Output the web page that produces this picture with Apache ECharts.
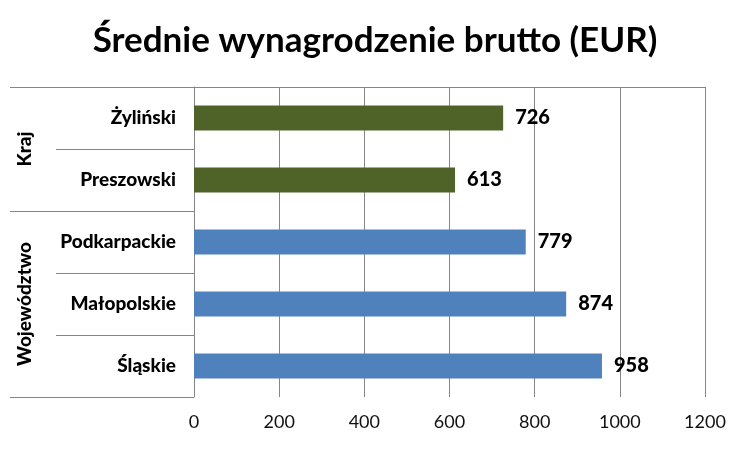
<!DOCTYPE html>
<html>
<head>
<meta charset="utf-8">
<script src="https://cdn.jsdelivr.net/npm/echarts@6/dist/echarts.min.js"></script>
<style>
    html, body { margin: 0; padding: 0; background: #fff; }
    #chart { width: 750px; height: 450px; }
</style>
</head>
<body>
<div id="chart"></div>
<script>
    var categories = ['Żyliński', 'Preszowski', 'Podkarpackie', 'Małopolskie', 'Śląskie'];
    var values = [726, 613, 779, 874, 958];
    var groupOf = ['Kraj', 'Kraj', 'Województwo', 'Województwo', 'Województwo'];
    var groups = ['Kraj', 'Województwo'];
    var xTicks = [0, 200, 400, 600, 800, 1000, 1200];

    var colors = { 'Kraj': '#4F6228', 'Województwo': '#4F81BD' };
    var gridColor = '#868686';
    var font = 'Lato';

    // group boundaries and label positions in category units
    var bounds = [0];
    var mids = [];
    groups.forEach(function (g) {
        var start = groupOf.indexOf(g);
        var end = groupOf.lastIndexOf(g) + 1;
        bounds.push(end);
        mids.push((start + end) / 2);
    });

    var chart = echarts.init(document.getElementById('chart'));
    chart.setOption({
        animation: false,
        title: {
            text: 'Średnie wynagrodzenie brutto (EUR)',
            left: 'center',
            top: 18,
            textStyle: { fontFamily: font, fontSize: 35, fontWeight: 'bold', color: '#000' }
        },
        grid: { left: 194, right: 45, top: 87, bottom: 53 },
        xAxis: {
            type: 'value',
            min: xTicks[0],
            max: xTicks[xTicks.length - 1],
            interval: xTicks[1] - xTicks[0],
            axisLine: { show: true, lineStyle: { color: gridColor } },
            axisTick: { show: true, length: 6, lineStyle: { color: gridColor } },
            axisLabel: {
                fontFamily: font, fontSize: 18, color: '#111', margin: 16,
                formatter: function (v) { return String(v); }
            },
            splitLine: { show: true, lineStyle: { color: gridColor } }
        },
        yAxis: [{
            type: 'category',
            inverse: true,
            data: categories,
            axisLine: { show: true, lineStyle: { color: gridColor } },
            axisTick: { show: true, length: 138, lineStyle: { color: gridColor } },
            axisLabel: { fontFamily: font, fontSize: 19, fontWeight: 900, color: '#000', margin: 18 }
        }, {
            type: 'value',
            inverse: true,
            min: 0,
            max: categories.length,
            position: 'left',
            axisLine: { show: false },
            splitLine: { show: false },
            axisTick: { show: true, length: 184, customValues: bounds, lineStyle: { color: gridColor } },
            axisLabel: {
                customValues: mids,
                rotate: 90,
                margin: 160,
                fontFamily: font,
                fontSize: 19,
                fontWeight: 900,
                color: '#000',
                formatter: function (v) {
                    return groups[mids.indexOf(v)] || '';
                }
            }
        }],
        series: [{
            type: 'bar',
            barWidth: 25,
            data: values.map(function (v, i) {
                return { value: v, itemStyle: { color: colors[groupOf[i]] } };
            }),
            label: {
                show: true,
                position: 'right',
                distance: 12,
                fontFamily: font,
                fontSize: 20,
                fontWeight: 900,
                color: '#000'
            }
        }]
    });
</script>
</body>
</html>
